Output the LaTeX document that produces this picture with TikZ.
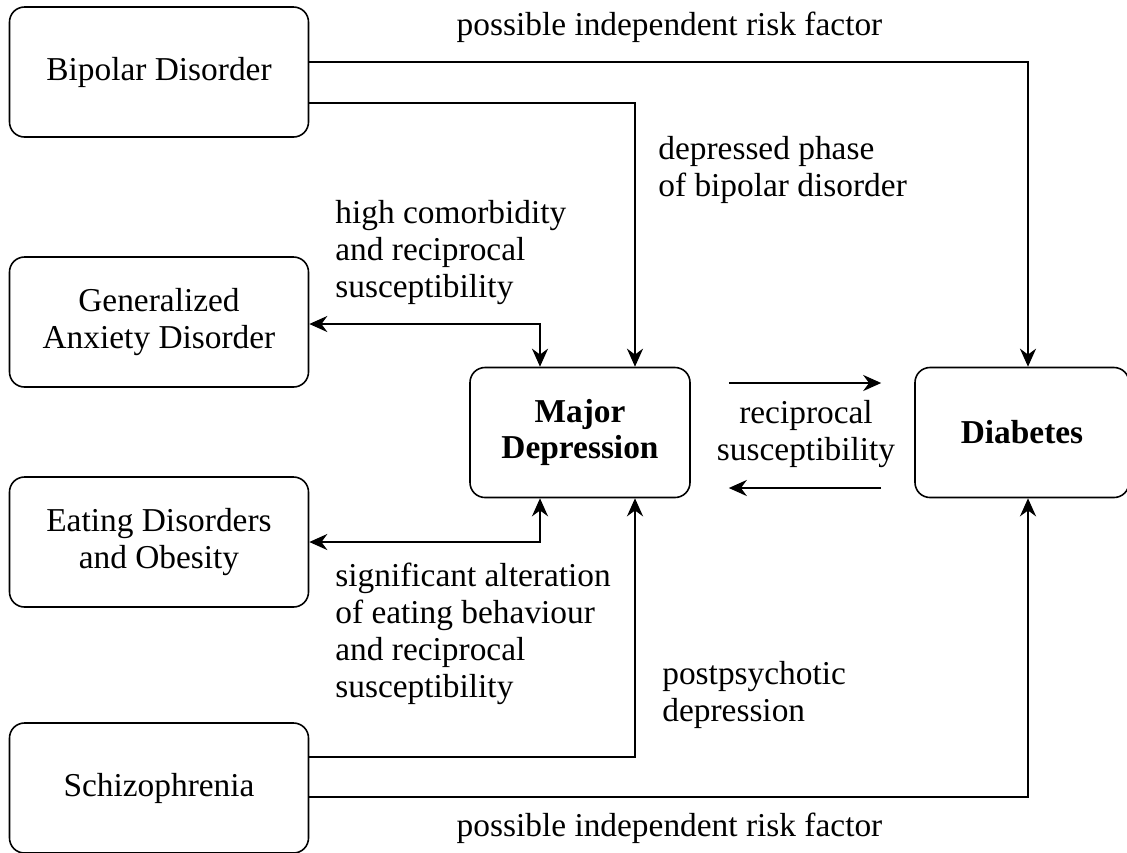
\documentclass[tikz,border=0pt]{standalone}
\usepackage{fontspec}
\setmainfont{Liberation Serif}
\usetikzlibrary{arrows.meta}

\begin{document}
\begin{tikzpicture}[x=0.2mm,y=-0.2mm,font=\fontsize{19}{21}\selectfont,
  box/.style={draw,rounded corners=3mm,line width=0.9pt,align=center,minimum width=59.8mm,minimum height=26mm},
  link/.style={line width=1.4pt,-{Stealth[length=3.6mm,width=3.2mm]}},
  both/.style={line width=1.4pt,{Stealth[length=3.6mm,width=3.2mm]}-{Stealth[length=3.6mm,width=3.2mm]}},
  note/.style={anchor=base west,align=left,inner sep=0pt}]
\useasboundingbox (0,0) rectangle (1127,852);

\node[box](bip) at (159,72) {Bipolar Disorder};
\node[box](gad) at (159,322) {Generalized\\Anxiety Disorder};
\node[box](eat) at (159,542) {Eating Disorders\\and Obesity};
\node[box](sch) at (159,788) {Schizophrenia};
\node[box,minimum width=44mm,font=\fontsize{19}{21}\selectfont\bfseries](md) at (580,432.5) {Major\\Depression};
\node[box,minimum width=42.8mm,font=\fontsize{19}{21}\selectfont\bfseries](dia) at (1022,432.5) {Diabetes};

\draw[link] ([yshift=2mm]bip.east) -| ([xshift=1.2mm]dia.north);
\draw[link] ([yshift=-6.2mm]bip.east) -| ([xshift=11mm]md.north);
\draw[both] ([yshift=-0.4mm]gad.east) -| ([xshift=-8mm]md.north);
\draw[both] (eat.east) -| ([xshift=-8mm]md.south);
\draw[link] ([yshift=6.2mm]sch.east) -| ([xshift=11mm]md.south);
\draw[link] ([yshift=-1.8mm]sch.east) -| ([xshift=1.2mm]dia.south);

\draw[link,shorten <=7.6mm,shorten >=6.6mm] ([yshift=9.9mm]md.east) -- ([yshift=9.9mm]dia.west);
\draw[link,shorten <=6.6mm,shorten >=7.6mm] ([yshift=-11.1mm]dia.west) -- ([yshift=-11.1mm]md.east);

\node[anchor=base,inner sep=0pt](top) at (669.5,35) {possible independent risk factor};
\node[note](dep) at (658,196) {depressed phase\\of bipolar disorder};
\node[note](com) at (335,297) {high comorbidity\\and reciprocal\\susceptibility};
\node[anchor=base,align=center,inner sep=0pt](rec) at (806,460) {reciprocal\\susceptibility};
\node[note](alt) at (335,697) {significant alteration\\of eating behaviour\\and reciprocal\\susceptibility};
\node[note](pos) at (662,721) {postpsychotic\\depression};
\node[anchor=base,inner sep=0pt](bot) at (669.5,836) {possible independent risk factor};

\end{tikzpicture}
\end{document}
